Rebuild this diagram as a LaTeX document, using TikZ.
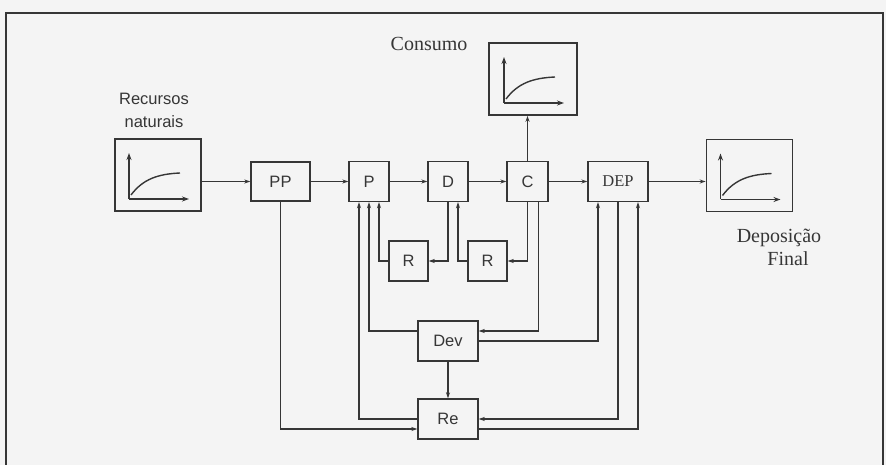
\documentclass[tikz,border=0pt]{standalone}
\usepackage{fontspec}
\setmainfont{Liberation Serif}
\setsansfont{Liberation Sans}
\usetikzlibrary{arrows.meta}
\definecolor{ink}{HTML}{363636}
\definecolor{paper}{HTML}{F4F4F4}
\begin{document}
\begin{tikzpicture}[x=1pt,y=-1pt,
  box/.style={draw=ink,line width=1.4pt,inner sep=0pt,font=\sffamily\fontsize{16.5}{19}\selectfont,text=ink},
  sbox/.style={box,minimum width=40pt,minimum height=40pt},
  wbox/.style={box,minimum width=60pt,minimum height=40pt},
  gbox/.style={draw=ink,line width=1.6pt,minimum width=86pt,minimum height=72pt,inner sep=0pt},
  arr/.style={draw=ink,line width=1.25pt,-{Stealth[length=6pt,width=4pt]}},
  axis/.style={draw=ink,line width=1.5pt,-{Stealth[length=7pt,width=5pt]}},
  crv/.style={draw=ink,line width=1.4pt},
  lab/.style={text=ink,inner sep=0pt}
]
\useasboundingbox (0,0) rectangle (886,465);
\fill[paper] (0,0) rectangle (886,465);
\draw[ink,line width=1.4pt] (6,465) -- (6,13) -- (883,13) -- (883,465);

% graph boxes
\node[gbox] (G1) at (158,175) {};
\node[gbox] (G3) at (749.5,175.5) {};
\node[gbox,minimum width=88pt] (GC) at (533,79) {};
\foreach \g in {G1,G3,GC}{
  \begin{scope}[shift={(\g.center)}]
    \draw[axis] (-29,24) -- (-29,-22);
    \draw[axis] (-29,24) -- (31,24);
    \draw[crv] (-27,20) .. controls (-15,4) and (0,-1) .. (22,-2);
  \end{scope}
}

% flow boxes
\node[box,minimum width=59pt,minimum height=39pt] (PP) at (280.5,181.5) {PP};
\node[sbox] (P) at (369,181.5) {P};
\node[sbox] (D) at (448,181.5) {D};
\node[sbox,minimum width=41pt] (C) at (527.5,181.5) {C};
\node[wbox,font=\rmfamily\fontsize{16.5}{19}\selectfont] (DEP) at (618,181.5) {DEP};
\node[sbox,minimum width=39pt] (R1) at (408.5,261) {R};
\node[sbox,minimum width=39pt] (R2) at (487.5,261) {R};
\node[wbox] (Dev) at (448,341) {Dev};
\node[wbox] (Re) at (448,419) {Re};

% labels
\node[lab,font=\sffamily\fontsize{16.5}{23}\selectfont,align=center] (rn) at (154,110) {Recursos\\naturais};
\node[lab,font=\rmfamily\fontsize{20}{23}\selectfont] (cons) at (429,44) {Consumo};
\node[lab,font=\rmfamily\fontsize{20}{23}\selectfont] (dep1) at (779,238) {Deposição};
\node[lab,font=\rmfamily\fontsize{20}{23}\selectfont] (dep2) at (788,259) {Final};

% main flow
\draw[arr] (PP.west -| G1.east) -- (PP.west);
\draw[arr] (PP) -- (P);
\draw[arr] (P) -- (D);
\draw[arr] (D) -- (C);
\draw[arr] (C) -- (DEP);
\draw[arr] (DEP.east) -- (DEP.east -| G3.west);
\draw[arr] (C.north) -- (C.north |- GC.south);

% loops with R
\draw[arr] (D.south) |- (R1.east);
\draw[arr] (R1.west) -| ([xshift=10pt]P.south);
\draw[arr] (C.south) |- (R2.east);
\draw[arr] (R2.west) -| ([xshift=10pt]D.south);

% Dev connections
\draw[arr] ([xshift=11pt]C.south) |- ([yshift=10pt]Dev.east);
\draw[arr] ([yshift=10pt]Dev.west) -| (P.south);
\draw[arr] (Dev.east) -| ([xshift=-20pt]DEP.south);
\draw[arr] (Dev) -- (Re);

% Re connections
\draw[arr] (DEP.south) |- (Re.east);
\draw[arr] ([yshift=-10pt]Re.east) -| ([xshift=20pt]DEP.south);
\draw[arr] (Re.west) -| ([xshift=-10pt]P.south);
\draw[arr] (PP.south) |- ([yshift=-10pt]Re.west);
\end{tikzpicture}
\end{document}
